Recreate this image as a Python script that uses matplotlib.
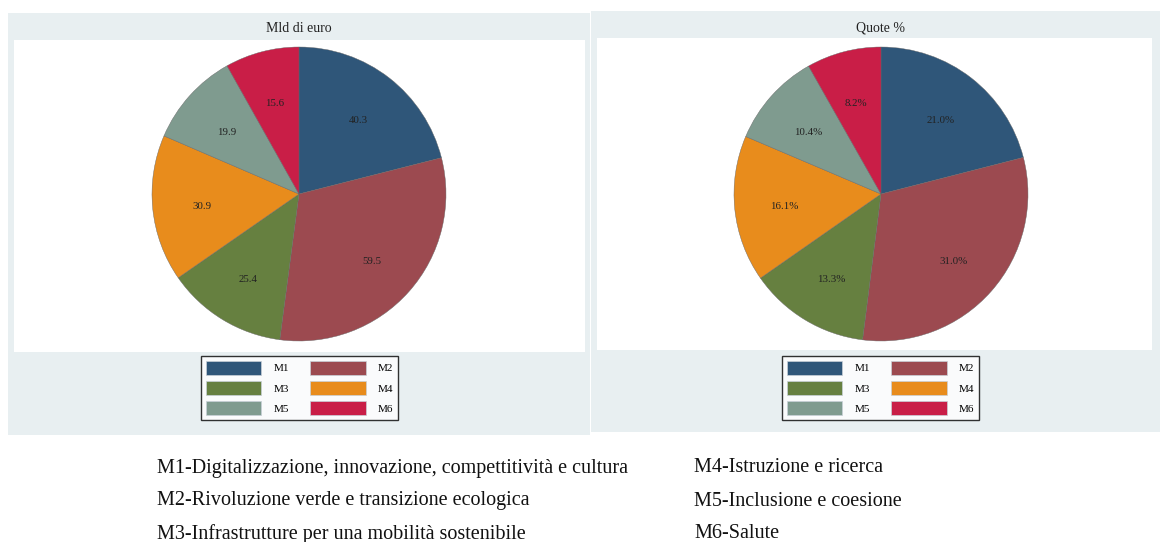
import numpy as np
import matplotlib.pyplot as plt
from matplotlib.patches import Rectangle, Patch

plt.rcParams['font.family'] = ['Liberation Serif', 'DejaVu Serif']

missions = ['M1', 'M2', 'M3', 'M4', 'M5', 'M6']
mld_euro = [40.3, 59.5, 25.4, 30.9, 19.9, 15.6]
quote = [21.0, 31.0, 13.3, 16.1, 10.4, 8.2]
colors = ['#2f5679', '#9c4a50', '#668040', '#e88c1c', '#7f9b8f', '#c91e47']
descriptions = [
    'M1-Digitalizzazione, innovazione, compettitività e cultura',
    'M2-Rivoluzione verde e transizione ecologica',
    'M3-Infrastrutture per una mobilità sostenibile',
    'M4-Istruzione e ricerca',
    'M5-Inclusione e coesione',
    'M6-Salute',
]

W, H = 1160, 542
fig = plt.figure(figsize=(W / 100, H / 100), dpi=100)


def box(x0, y0, x1, y1):
    # pixel box (top-left origin) -> figure fraction rect
    return [x0 / W, 1 - y1 / H, (x1 - x0) / W, (y1 - y0) / H]


def rect(b, color, z):
    fig.patches.append(Rectangle(b[:2], b[2], b[3], transform=fig.transFigure,
                                 facecolor=color, edgecolor='none', zorder=z))


def panel(outer, inner, centre, title, values, fmt, legend_box):
    rect(box(*outer), '#e8eff1', -5)
    rect(box(*inner), 'white', -4)
    ax = fig.add_axes(box(*inner), zorder=2)
    ax.pie(values, colors=colors, startangle=90, counterclock=False,
           radius=1.0, wedgeprops=dict(linewidth=0.3, edgecolor='#666666'))
    tot = sum(values)
    ang0 = 90.0
    for v in values:
        a = ang0 - 360.0 * v / tot / 2
        ax.text(0.66 * np.cos(np.radians(a)), 0.66 * np.sin(np.radians(a)) - 0.02,
                fmt(v), ha='center', va='center', fontsize=7.8, color='#222222')
        ang0 -= 360.0 * v / tot
    wpx = inner[2] - inner[0]
    hpx = inner[3] - inner[1]
    r = 147.0
    cx = centre[0] - inner[0]
    cy = centre[1] - inner[1]
    ax.set_aspect('auto')
    ax.set_xlim(-cx / r, (wpx - cx) / r)
    ax.set_ylim(-(hpx - cy) / r, cy / r)
    ax.set_axis_off()
    fig.text(centre[0] / W, 1 - 28 / H, title,
             ha='center', va='center', fontsize=10, color='#222222')
    # legend filled column-wise -> reorder so rows read M1 M2 / M3 M4 / M5 M6
    order = [0, 2, 4, 1, 3, 5]
    handles = [Patch(facecolor=colors[i], edgecolor='#c8d0d8', linewidth=0.5) for i in order]
    labels = [missions[i] for i in order]
    lx0, ly0, lx1, ly1 = legend_box
    leg = fig.legend(handles, labels, ncol=2, loc='center',
                     bbox_to_anchor=((lx0 + lx1) / 2 / W, 1 - (ly0 + ly1) / 2 / H),
                     fontsize=8, frameon=True, fancybox=False,
                     handlelength=5.0, handleheight=1.55, labelspacing=0.58,
                     columnspacing=1.9, handletextpad=1.1, borderpad=0.45)
    leg.set_zorder(5)
    fr = leg.get_frame()
    fr.set_edgecolor('black')
    fr.set_linewidth(1.0)
    fr.set_facecolor('white')


panel((8, 13, 590, 435), (14, 40, 585, 352), (299, 194), 'Mld di euro',
      mld_euro, lambda v: f'{v:.1f}', (203, 355, 396, 421))
panel((591, 11, 1160, 432), (597, 38, 1152, 350), (881, 194), 'Quote %',
      quote, lambda v: f'{v:.1f}%', (785, 354, 976, 422))

ys = [468, 501, 534]
for i, d in enumerate(descriptions):
    x = 157 if i < 3 else 694
    fig.text(x / W, 1 - ys[i % 3] / H, d, ha='left', va='center',
             fontsize=14.5, color='#111111')

fig.savefig('out.png', dpi=100)
